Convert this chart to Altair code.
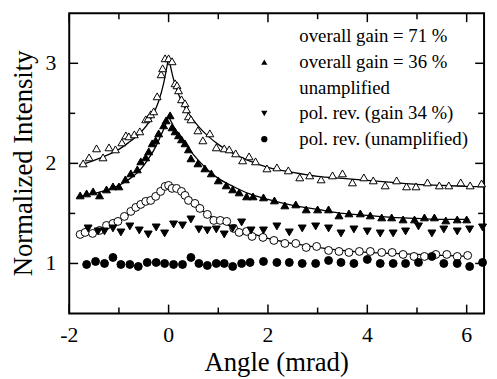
import altair as alt
import pandas as pd

# ---- data ----
g71_x = [-1.72,-1.6,-1.45,-1.32,-1.2,-1.07,-0.94,-0.86,-0.8,-0.69,-0.58,-0.46,-0.41,-0.36,-0.3,-0.23,-0.15,-0.12,-0.07,0.0,0.07,0.13,0.17,0.2,0.26,0.33,0.36,0.4,0.45,0.59,0.69,0.83,0.96,1.12,1.22,1.35,1.49,1.62,1.75,1.98,2.18,2.41,2.64,2.84,3.07,3.3,3.5,3.7,3.93,4.12,4.36,4.59,4.79,4.98,5.21,5.45,5.64,5.88,6.07,6.3]
g71_y = [2.0,2.06,2.15,2.06,2.16,2.14,2.21,2.28,2.27,2.29,2.32,2.44,2.45,2.49,2.52,2.67,2.89,2.95,3.05,3.05,3.02,2.8,2.78,2.73,2.64,2.6,2.54,2.47,2.44,2.33,2.23,2.3,2.16,2.15,2.14,2.1,2.03,2.07,2.02,1.95,1.96,1.93,1.86,1.88,1.84,1.88,1.9,1.81,1.86,1.83,1.78,1.83,1.77,1.77,1.81,1.78,1.78,1.81,1.78,1.8]

g36_x = [-1.78,-1.65,-1.52,-1.39,-1.25,-1.12,-1.0,-0.87,-0.76,-0.63,-0.56,-0.46,-0.4,-0.33,-0.26,-0.2,-0.1,-0.05,0.03,0.07,0.13,0.2,0.26,0.33,0.4,0.45,0.59,0.73,0.86,1.0,1.16,1.29,1.42,1.57,1.7,1.91,2.13,2.34,2.56,2.77,3.0,3.22,3.43,3.63,3.86,4.06,4.29,4.49,4.72,4.95,5.15,5.35,5.58,5.81,6.0]
g36_y = [1.68,1.7,1.72,1.68,1.74,1.77,1.77,1.84,1.9,1.94,2.02,2.06,2.12,2.2,2.23,2.3,2.38,2.43,2.48,2.36,2.32,2.28,2.24,2.2,2.14,2.05,2.0,1.95,1.9,1.83,1.78,1.74,1.71,1.67,1.67,1.66,1.63,1.58,1.59,1.54,1.54,1.54,1.48,1.5,1.5,1.48,1.46,1.46,1.44,1.44,1.46,1.46,1.43,1.44,1.44]

un_x = [-1.78,-1.68,-1.53,-1.39,-1.25,-1.12,-1.02,-0.89,-0.76,-0.66,-0.56,-0.46,-0.36,-0.26,-0.16,-0.07,0.0,0.07,0.16,0.26,0.33,0.4,0.53,0.63,0.78,0.91,1.04,1.17,1.31,1.42,1.57,1.68,1.9,2.12,2.34,2.56,2.77,2.98,3.22,3.43,3.63,3.84,4.06,4.29,4.5,4.72,4.94,5.15,5.38,5.6,5.81,6.02]
un_y = [1.29,1.31,1.3,1.33,1.38,1.4,1.42,1.47,1.52,1.56,1.59,1.62,1.63,1.67,1.72,1.77,1.78,1.75,1.75,1.72,1.68,1.63,1.6,1.55,1.49,1.43,1.43,1.42,1.35,1.31,1.32,1.27,1.26,1.23,1.2,1.2,1.16,1.17,1.13,1.12,1.11,1.12,1.12,1.11,1.11,1.09,1.07,1.07,1.09,1.09,1.07,1.08]

pr34_x = [-1.62,-1.42,-1.29,-1.12,-0.96,-0.78,-0.59,-0.41,-0.25,-0.08,0.1,0.28,0.45,0.61,0.78,0.96,1.12,1.29,1.47,1.66,1.91,2.18,2.43,2.69,2.96,3.22,3.47,3.73,4.0,4.26,4.52,4.77,5.03,5.3,5.54,5.81,6.06,6.32]
pr34_y = [1.35,1.32,1.32,1.35,1.31,1.37,1.33,1.29,1.36,1.3,1.39,1.38,1.44,1.34,1.33,1.34,1.29,1.35,1.41,1.33,1.33,1.37,1.31,1.35,1.37,1.35,1.3,1.34,1.32,1.3,1.3,1.32,1.37,1.3,1.34,1.32,1.34,1.36]

prun_x = [-1.65,-1.47,-1.29,-1.12,-0.96,-0.78,-0.61,-0.43,-0.25,-0.08,0.1,0.28,0.45,0.61,0.78,0.96,1.12,1.29,1.47,1.64,1.91,2.18,2.43,2.69,2.96,3.22,3.47,3.73,4.0,4.26,4.52,4.77,5.03,5.3,5.54,5.81,6.06,6.32]
prun_y = [0.99,1.02,1.0,1.06,0.99,0.99,0.97,1.01,1.01,1.0,0.99,0.99,1.06,1.0,0.98,1.0,1.0,0.97,1.0,1.01,1.02,1.01,1.01,1.0,1.0,1.03,1.01,1.0,1.04,1.0,1.0,1.0,1.01,1.07,1.0,1.0,0.97,1.01]

# fitted curves, left and right branches of the cusp
c71_lx = [-1.8,-1.5,-1.2,-1.0,-0.8,-0.6,-0.4,-0.3,-0.2,-0.1,0.0]
c71_ly = [1.98,2.03,2.09,2.14,2.21,2.29,2.41,2.5,2.62,2.8,3.06]
c71_rx = [0.0,0.1,0.2,0.3,0.4,0.6,0.8,1.0,1.3,1.6,2.0,2.5,3.0,3.5,4.0,4.5,5.0,5.5,6.0,6.35]
c71_ry = [3.06,2.84,2.69,2.58,2.5,2.37,2.27,2.19,2.1,2.03,1.96,1.91,1.87,1.85,1.83,1.81,1.79,1.78,1.77,1.765]

c36_lx = [-1.85,-1.5,-1.2,-1.0,-0.8,-0.6,-0.4,-0.3,-0.2,-0.1,0.0]
c36_ly = [1.66,1.7,1.74,1.78,1.84,1.92,2.05,2.13,2.23,2.34,2.47]
c36_rx = [0.0,0.1,0.2,0.3,0.4,0.6,0.8,1.0,1.3,1.6,2.0,2.5,3.0,3.5,4.0,4.5,5.0,5.5,6.05]
c36_ry = [2.47,2.37,2.29,2.22,2.15,2.03,1.93,1.85,1.77,1.7,1.64,1.58,1.54,1.5,1.48,1.46,1.45,1.44,1.44]

cun_lx = [-1.8,-1.5,-1.2,-1.0,-0.8,-0.6,-0.4,-0.2,0.0]
cun_ly = [1.29,1.32,1.37,1.42,1.49,1.56,1.63,1.71,1.78]
cun_rx = [0.0,0.2,0.4,0.6,0.8,1.0,1.3,1.6,2.0,2.5,3.0,3.5,4.0,4.5,5.0,5.5,6.05]
cun_ry = [1.78,1.72,1.65,1.56,1.49,1.43,1.36,1.31,1.25,1.2,1.16,1.13,1.11,1.1,1.09,1.08,1.07]

series_names = ["overall gain = 71 %", "overall gain = 36 %", "unamplified",
                "pol. rev. (gain 34 %)", "pol. rev. (unamplified)"]
shapes = ["triangle-up", "triangle-up", "circle", "triangle-down", "circle"]
fills = ["white", "black", "white", "black", "black"]

x_major = [-2, 0, 2, 4, 6]
x_minor = [-1, 1, 3, 5]
y_major = [1, 2, 3]
y_minor = [1.5, 2.5]
x_title = "Angle (mrad)"
y_title = "Normalized Intensity"

# ---- build tables ----
pts = []
for name, xs, ys in zip(series_names, [g71_x, g36_x, un_x, pr34_x, prun_x],
                        [g71_y, g36_y, un_y, pr34_y, prun_y]):
    for a, b in zip(xs, ys):
        pts.append({"x": a, "y": b, "series": name})
pts = pd.DataFrame(pts)

crv = []
for cid, (lx, ly, rx, ry) in enumerate([(c71_lx, c71_ly, c71_rx, c71_ry),
                                         (c36_lx, c36_ly, c36_rx, c36_ry),
                                         (cun_lx, cun_ly, cun_rx, cun_ry)]):
    for a, b in zip(lx, ly):
        crv.append({"x": a, "y": b, "branch": f"{cid}L"})
    for a, b in zip(rx, ry):
        crv.append({"x": a, "y": b, "branch": f"{cid}R"})
crv = pd.DataFrame(crv)

W, H = 420, 304
FONT = "Liberation Serif"

xscale = alt.Scale(domain=[-2, 6.35], nice=False, zero=False)
yscale = alt.Scale(domain=[0.5, 3.5], nice=False, zero=False)
X = alt.X("x:Q", scale=xscale, axis=None)
Y = alt.Y("y:Q", scale=yscale, axis=None)

lines = alt.Chart(crv).mark_line(color="black", strokeWidth=1.3, interpolate="monotone").encode(
    x=X, y=Y, detail="branch:N")

leg = alt.Legend(title=None, orient="none", legendX=188, legendY=14, labelLimit=400)
points = alt.Chart(pts).mark_point(stroke="black", strokeWidth=1, opacity=1, fillOpacity=1,
                                   size=64).encode(
    x=X, y=Y,
    shape=alt.Shape("series:N", scale=alt.Scale(domain=series_names, range=shapes), legend=leg),
    fill=alt.Fill("series:N", scale=alt.Scale(domain=series_names, range=fills), legend=leg),
)

def xticks(vals, length):
    df = pd.DataFrame({"x": vals})
    b = alt.Chart(df).mark_rule(color="black", strokeWidth=1.5).encode(
        x=X, y=alt.value(H), y2=alt.value(H - length))
    t = alt.Chart(df).mark_rule(color="black", strokeWidth=1.5).encode(
        x=X, y=alt.value(0), y2=alt.value(length))
    return [b, t]

def yticks(vals, length):
    df = pd.DataFrame({"y": vals})
    l = alt.Chart(df).mark_rule(color="black", strokeWidth=1.5).encode(
        y=Y, x=alt.value(0), x2=alt.value(length))
    r = alt.Chart(df).mark_rule(color="black", strokeWidth=1.5).encode(
        y=Y, x=alt.value(W), x2=alt.value(W - length))
    return [l, r]

# tick labels and axis titles as text in the serif font
xlab = alt.Chart(pd.DataFrame({"x": x_major, "lab": [str(v) for v in x_major]})).mark_text(
    font=FONT, fontSize=22, color="black", baseline="middle", align="center").encode(
    x=X, y=alt.value(H + 22), text="lab:N")
ylab = alt.Chart(pd.DataFrame({"y": y_major, "lab": [str(v) for v in y_major]})).mark_text(
    font=FONT, fontSize=22, color="black", baseline="middle", align="right").encode(
    y=Y, x=alt.value(-13), text="lab:N")
xtit = alt.Chart(pd.DataFrame({"t": [x_title]})).mark_text(
    font=FONT, fontSize=27, color="black", baseline="alphabetic", align="center").encode(
    x=alt.value(W / 2), y=alt.value(H + 58), text="t:N")
ytit = alt.Chart(pd.DataFrame({"t": [y_title]})).mark_text(
    font=FONT, fontSize=27, color="black", baseline="alphabetic", align="center", angle=270).encode(
    x=alt.value(-38), y=alt.value(H / 2), text="t:N")

layers = ([lines, points] + xticks(x_major, 9) + xticks(x_minor, 6) + yticks(y_major, 9)
          + yticks(y_minor, 6) + [xlab, ylab, xtit, ytit])

chart = alt.layer(*layers).properties(
    width=W, height=H,
    autosize=alt.AutoSizeParams(type="none"),
    padding={"left": 62, "top": 3, "right": 5, "bottom": 64},
    background="white",
).configure(
    font=FONT,
).configure_view(stroke="black", strokeWidth=2
).configure_legend(
    labelFont=FONT, labelFontSize=19, labelColor="black",
    symbolSize=40, labelOffset=26, rowPadding=6, labelLimit=400,
    symbolStrokeWidth=1, symbolStrokeColor="black",
)

chart.save("out.html", embed_options={"renderer": "svg", "actions": False})
